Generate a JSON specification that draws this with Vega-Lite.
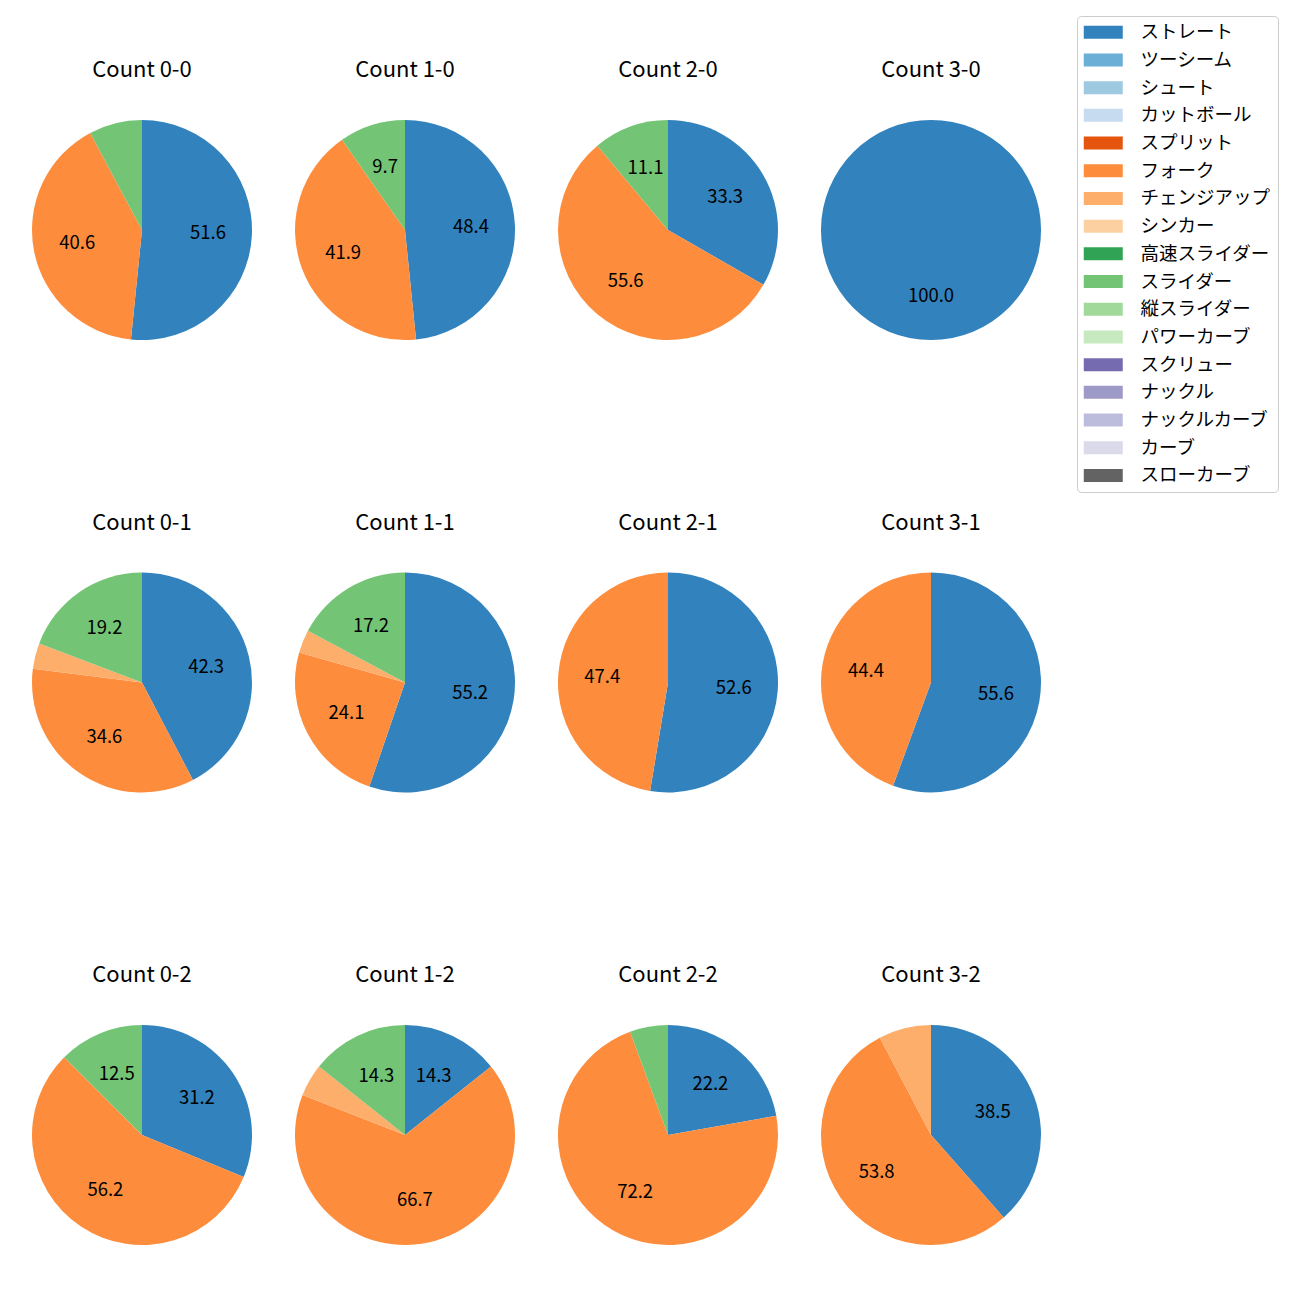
{
  "$schema": "https://vega.github.io/schema/vega-lite/v6.json",
  "padding": {"left": 32, "top": 15, "right": 5, "bottom": 5},
  "background": "white",
  "data": {
    "values": [
      {"count": "Count 0-0", "pitch": "ストレート", "k": 0, "value": 51.6},
      {"count": "Count 0-0", "pitch": "フォーク", "k": 5, "value": 40.6},
      {"count": "Count 0-0", "pitch": "スライダー", "k": 9, "value": 7.8},
      {"count": "Count 1-0", "pitch": "ストレート", "k": 0, "value": 48.4},
      {"count": "Count 1-0", "pitch": "フォーク", "k": 5, "value": 41.9},
      {"count": "Count 1-0", "pitch": "スライダー", "k": 9, "value": 9.7},
      {"count": "Count 2-0", "pitch": "ストレート", "k": 0, "value": 33.3},
      {"count": "Count 2-0", "pitch": "フォーク", "k": 5, "value": 55.6},
      {"count": "Count 2-0", "pitch": "スライダー", "k": 9, "value": 11.1},
      {"count": "Count 3-0", "pitch": "ストレート", "k": 0, "value": 100.0},
      {"count": "Count 0-1", "pitch": "ストレート", "k": 0, "value": 42.3},
      {"count": "Count 0-1", "pitch": "フォーク", "k": 5, "value": 34.6},
      {"count": "Count 0-1", "pitch": "チェンジアップ", "k": 6, "value": 3.8},
      {"count": "Count 0-1", "pitch": "スライダー", "k": 9, "value": 19.2},
      {"count": "Count 1-1", "pitch": "ストレート", "k": 0, "value": 55.2},
      {"count": "Count 1-1", "pitch": "フォーク", "k": 5, "value": 24.1},
      {"count": "Count 1-1", "pitch": "チェンジアップ", "k": 6, "value": 3.4},
      {"count": "Count 1-1", "pitch": "スライダー", "k": 9, "value": 17.2},
      {"count": "Count 2-1", "pitch": "ストレート", "k": 0, "value": 52.6},
      {"count": "Count 2-1", "pitch": "フォーク", "k": 5, "value": 47.4},
      {"count": "Count 3-1", "pitch": "ストレート", "k": 0, "value": 55.6},
      {"count": "Count 3-1", "pitch": "フォーク", "k": 5, "value": 44.4},
      {"count": "Count 0-2", "pitch": "ストレート", "k": 0, "value": 31.2},
      {"count": "Count 0-2", "pitch": "フォーク", "k": 5, "value": 56.2},
      {"count": "Count 0-2", "pitch": "スライダー", "k": 9, "value": 12.5},
      {"count": "Count 1-2", "pitch": "ストレート", "k": 0, "value": 14.3},
      {"count": "Count 1-2", "pitch": "フォーク", "k": 5, "value": 66.7},
      {"count": "Count 1-2", "pitch": "チェンジアップ", "k": 6, "value": 4.8},
      {"count": "Count 1-2", "pitch": "スライダー", "k": 9, "value": 14.3},
      {"count": "Count 2-2", "pitch": "ストレート", "k": 0, "value": 22.2},
      {"count": "Count 2-2", "pitch": "フォーク", "k": 5, "value": 72.2},
      {"count": "Count 2-2", "pitch": "スライダー", "k": 9, "value": 5.6},
      {"count": "Count 3-2", "pitch": "ストレート", "k": 0, "value": 38.5},
      {"count": "Count 3-2", "pitch": "フォーク", "k": 5, "value": 53.8},
      {"count": "Count 3-2", "pitch": "チェンジアップ", "k": 6, "value": 7.7}
    ]
  },
  "facet": {
    "field": "count",
    "type": "nominal",
    "sort": ["Count 0-0", "Count 1-0", "Count 2-0", "Count 3-0", "Count 0-1", "Count 1-1", "Count 2-1", "Count 3-1", "Count 0-2", "Count 1-2", "Count 2-2", "Count 3-2"],
    "header": {"title": null, "labelFontSize": 22, "labelFont": "Noto Sans CJK JP", "labelColor": "#000000", "labelPadding": 38}
  },
  "columns": 4,
  "spacing": {"row": 171.5, "column": 43},
  "spec": {
    "width": 220,
    "height": 220,
    "layer": [
      {
        "mark": {"type": "arc"},
        "encoding": {
          "theta": {"field": "value", "type": "quantitative", "stack": "normalize"},
          "order": {"field": "k", "type": "quantitative"},
          "color": {
            "field": "pitch",
            "type": "nominal",
            "scale": {
              "domain": ["ストレート", "ツーシーム", "シュート", "カットボール", "スプリット", "フォーク", "チェンジアップ", "シンカー", "高速スライダー", "スライダー", "縦スライダー", "パワーカーブ", "スクリュー", "ナックル", "ナックルカーブ", "カーブ", "スローカーブ"],
              "range": ["#3182bd", "#6baed6", "#9ecae1", "#c6dbef", "#e6550d", "#fd8d3c", "#fdae6b", "#fdd0a2", "#31a354", "#74c476", "#a1d99b", "#c7e9c0", "#756bb1", "#9e9ac8", "#bcbddc", "#dadaeb", "#636363"]
            },
            "legend": {
              "title": null,
              "orient": "none",
              "legendX": 1045,
              "legendY": -104,
              "labelFontSize": 18.5,
              "labelFont": "Noto Sans CJK JP",
              "labelColor": "#000000",
              "symbolType": "M-1.46,-1H4.54V1H-1.46Z",
              "symbolSize": 169,
              "symbolStrokeWidth": 0,
              "symbolOpacity": 1,
              "labelOffset": 38,
              "padding": 7,
              "rowPadding": 8.7,
              "strokeColor": "#cccccc",
              "cornerRadius": 4,
              "fillColor": "white",
              "values": ["ストレート", "ツーシーム", "シュート", "カットボール", "スプリット", "フォーク", "チェンジアップ", "シンカー", "高速スライダー", "スライダー", "縦スライダー", "パワーカーブ", "スクリュー", "ナックル", "ナックルカーブ", "カーブ", "スローカーブ"]
            }
          }
        }
      },
      {
        "mark": {"type": "text", "radius": 66, "fontSize": 18.5, "font": "Noto Sans CJK JP", "color": "#000000"},
        "encoding": {
          "theta": {"field": "value", "type": "quantitative", "stack": "normalize"},
          "order": {"field": "k", "type": "quantitative"},
          "text": {"condition": {"test": "datum.value >= 9", "field": "value", "type": "quantitative", "format": ".1f"}, "value": ""}
        }
      }
    ]
  },
  "config": {"view": {"stroke": null}}
}
